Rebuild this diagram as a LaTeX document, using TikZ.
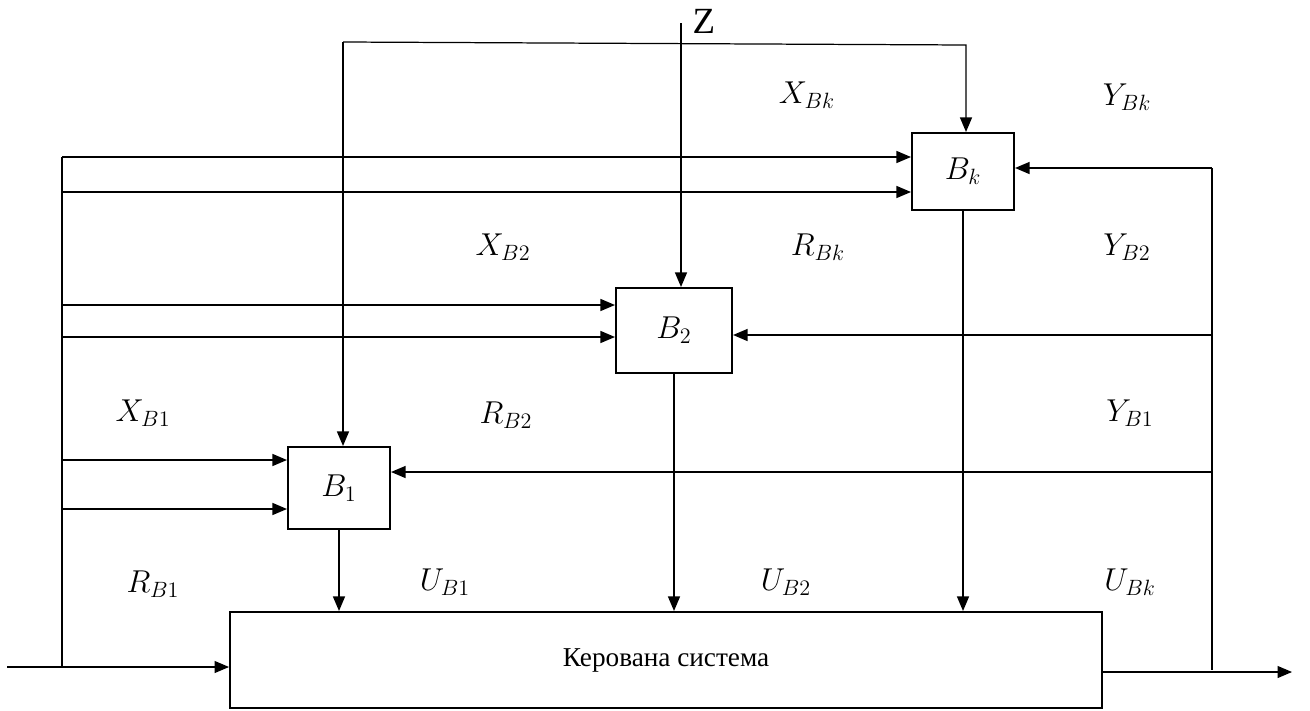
\RequirePackage{fix-cm}
\documentclass[tikz,border=0pt]{standalone}
\usepackage{fontspec}
\setmainfont{Liberation Serif}
\usetikzlibrary{arrows.meta,positioning}

\begin{document}
\begin{tikzpicture}[
  x=0.02cm, y=-0.02cm,
  block/.style={draw, line width=1.2pt, inner sep=0pt,
    font=\fontsize{18}{22}\selectfont},
  arrow/.style={-{Triangle[length=2.9mm, width=2.4mm]}, line width=0.7pt},
  wire/.style={line width=0.7pt},
  lbl/.style={font=\fontsize{18}{22}\selectfont}
]
\useasboundingbox (0,0) rectangle (1310,710);

% Blocks
\node[block, minimum width=2.04cm, minimum height=1.54cm] (bk) at (963,171.5) {$B_k$};
\node[block, minimum width=2.32cm, minimum height=1.7cm] (btwo) at (674,330.5) {$B_2$};
\node[block, minimum width=2.04cm, minimum height=1.64cm] (bone) at (339,488) {$B_1$};
\node[block, minimum width=17.44cm, minimum height=1.92cm,
  font=\fontsize{15.5}{18}\selectfont] (sys) at (666,660) {Керована система};

% Bus points
\coordinate (k1) at (62,157);
\coordinate (k2) at (62,192);
\coordinate (t1) at (62,305);
\coordinate (t2) at (62,337);
\coordinate (o1) at (62,460);
\coordinate (o2) at (62,509);
\coordinate (lb) at (62,666);
\coordinate (rk) at (1212,168);
\coordinate (r2) at (1212,335);
\coordinate (r1) at (1212,472);
\coordinate (rb) at (1212,670);
\coordinate (in) at (7,667);
\coordinate (out) at (1292,672);
\coordinate (zt) at (681,23);
\coordinate (tl) at (343,42);
\coordinate (tr) at (966,45);

% Buses
\draw[wire] (k1) -- (lb);
\draw[wire] (rk) -- (rb);

% Input and output
\draw[arrow] (in) -- (in -| sys.west);
\draw[arrow] (out -| sys.east) -- (out);

% Top lines
\draw[arrow] (zt) -- (zt |- btwo.north);
\draw[arrow] (tl) -- (tr) -- (tr |- bk.north);
\draw[arrow] (tl) -- (tl |- bone.north);

% Left inputs
\draw[arrow] (k1) -- (k1 -| bk.west);
\draw[arrow] (k2) -- (k2 -| bk.west);
\draw[arrow] (t1) -- (t1 -| btwo.west);
\draw[arrow] (t2) -- (t2 -| btwo.west);
\draw[arrow] (o1) -- (o1 -| bone.west);
\draw[arrow] (o2) -- (o2 -| bone.west);

% Feedback from the right
\draw[arrow] (rk) -- (rk -| bk.east);
\draw[arrow] (r2) -- (r2 -| btwo.east);
\draw[arrow] (r1) -- (r1 -| bone.east);

% Outputs to the system
\draw[arrow] (bone.south) -- (bone.south |- sys.north);
\draw[arrow] (btwo.south) -- (btwo.south |- sys.north);
\draw[arrow] (bk.south) -- (bk.south |- sys.north);

% Labels
\node[font=\fontsize{21}{25}\selectfont] (z) at (704,21) {Z};
\node[lbl] (xbk) at (807,95) {$X_{Bk}$};
\node[lbl] (ybk) at (1127,97) {$Y_{Bk}$};
\node[lbl] (xbtwo) at (503,247) {$X_{B2}$};
\node[lbl] (rbk) at (818,247) {$R_{Bk}$};
\node[lbl] (ybtwo) at (1127,247) {$Y_{B2}$};
\node[lbl] (xbone) at (143,413) {$X_{B1}$};
\node[lbl] (rbtwo) at (506,415) {$R_{B2}$};
\node[lbl] (ybone) at (1130,413) {$Y_{B1}$};
\node[lbl] (rbone) at (153,584) {$R_{B1}$};
\node[lbl] (ubone) at (445,582) {$U_{B1}$};
\node[lbl] (ubtwo) at (786,582) {$U_{B2}$};
\node[lbl] (ubk) at (1130,582) {$U_{Bk}$};

\end{tikzpicture}
\end{document}
